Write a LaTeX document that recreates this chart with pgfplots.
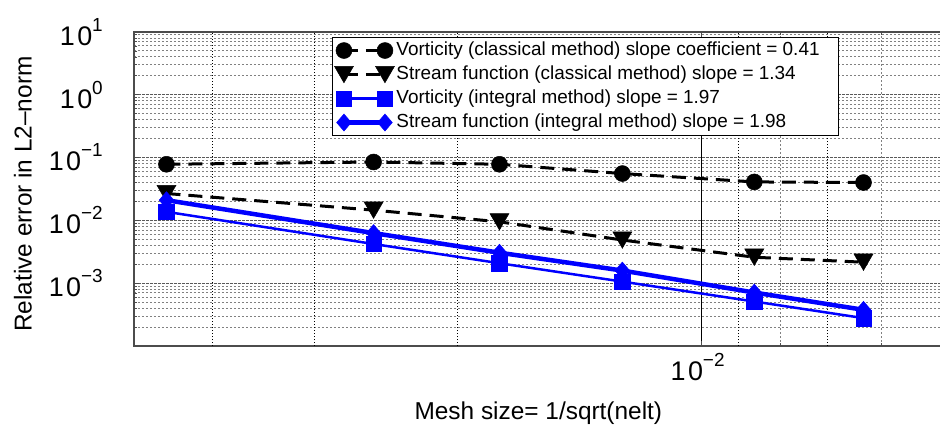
\documentclass[border=0pt]{standalone}
\usepackage{fontspec}
\setmainfont{Liberation Sans}
\usepackage{pgfplots}
\pgfplotsset{compat=1.18}
\definecolor{mblue}{RGB}{0,0,255}
\newcommand{\tl}[1]{1\kern2.5bp 0\raisebox{14bp}{\fontsize{19}{19}\selectfont #1}}

\begin{document}
\begin{tikzpicture}
\useasboundingbox (-134bp,-85bp) rectangle (806bp,346bp);
\begin{axis}[
  at={(0bp,0bp)}, anchor=south west,
  scale only axis, width=812bp, height=314bp,
  xmode=log, ymode=log,
  xmin=0.002, xmax=0.02, ymin=1e-4, ymax=10,
  xtick={0.01}, xticklabels={\tl{−2}},
  ytick={1e-4,1e-3,1e-2,1e-1,1,10},
  yticklabels={,\tl{−3},\tl{−2},\tl{−1},\tl{0},\tl{1}},
  minor xtick={0.0125,0.0166667},
  minor ytick={2e-4,3e-4,4e-4,5e-4,6e-4,7e-4,8e-4,9e-4,
               2e-3,3e-3,4e-3,5e-3,6e-3,7e-3,8e-3,9e-3,
               2e-2,3e-2,4e-2,5e-2,6e-2,7e-2,8e-2,9e-2,
               2e-1,3e-1,4e-1,5e-1,6e-1,7e-1,8e-1,9e-1,
               2,3,4,5,6,7,8,9},
  xmajorgrids, xminorgrids, ymajorgrids, yminorgrids,
  major y grid style={black!65, line width=1bp, dash pattern=on 3bp off 1bp},
  minor y grid style={black!50, line width=1bp, dash pattern=on 2bp off 2bp},
  major x grid style={black, line width=0.8bp},
  minor x grid style={black!50, line width=1bp, dash pattern=on 2bp off 2bp},
  extra x ticks={0.0025,0.00333333,0.005,0.0111111,0.0142857},
  extra x tick labels={},
  extra x tick style={grid=major, major tick length=0pt,
     major grid style={black, line width=1bp, dash pattern=on 1.5bp off 1.5bp},
     major x grid style={black, line width=1bp, dash pattern=on 1.5bp off 1.5bp}},
  tick align=inside,
  major tick length=5bp, minor tick length=3bp,
  tick style={black!70, line width=0.8bp},
  axis line style={black!70, line width=1.2bp},
  tick label style={font=\fontsize{27}{31}\selectfont},
  yticklabel style={anchor=east, inner sep=0pt, xshift=-31bp},
  xticklabel style={anchor=north, inner sep=0pt, yshift=-7bp, xshift=-4bp},
  label style={font=\fontsize{24.5}{29}\selectfont},
  xlabel={Mesh size= 1/sqrt(nelt)},
  ylabel={Relative error in L2–norm},
  xlabel style={at={(axis description cs:0.498,-0.2134)}, anchor=center},
  ylabel style={at={(axis description cs:-0.1367,0.484)}, anchor=center, rotate=0},
  legend style={at={(axis description cs:0.2438,0.984)}, anchor=north west,
     font=\fontsize{19}{22}\selectfont, draw=black, line width=1bp, fill=white,
     inner xsep=2bp, inner ysep=1bp, row sep=0pt,
     nodes={inner sep=2bp, text height=15bp, text depth=5bp}},
  legend cell align=left,
  legend image code/.code={\draw[mark repeat=1,mark phase=1,#1] plot coordinates {(0bp,0bp) (41bp,0bp)};},
]
\addplot[black, line width=3bp, dash pattern=on 14bp off 8bp, mark=*, mark size=8bp, mark options={solid, line width=0.5bp}]
  coordinates {(0.002193,0.0783) (0.003946,0.0851) (0.005638,0.0783) (0.00799,0.0557) (0.011613,0.0410) (0.015829,0.0401)};
\addlegendentry{Vorticity (classical method) slope coefficient = 0.41\hspace*{15bp}}
\addplot[black, line width=3bp, dash pattern=on 14bp off 8bp, mark=triangle*, mark size=11bp, mark options={solid, line width=0.5bp, yshift=2.75bp, rotate=180}]
  coordinates {(0.002193,0.0268) (0.003946,0.01457) (0.005638,0.00950) (0.00799,0.00487) (0.011613,0.00259) (0.015829,0.00216)};
\addlegendentry{Stream function (classical method) slope = 1.34}
\addplot[mblue, line width=2.5bp, mark=square*, mark size=7.75bp, mark options={solid, line width=0.5bp}]
  coordinates {(0.002193,0.0137) (0.003946,0.00421) (0.005638,0.00208) (0.00799,0.00106) (0.011613,0.000511) (0.015829,0.000278)};
\addlegendentry{Vorticity (integral method) slope = 1.97}
\addplot[mblue, line width=4.5bp, mark=diamond*, mark size=8.5bp, mark options={solid, line width=0.5bp, xscale=1.15}]
  coordinates {(0.002193,0.0210) (0.003946,0.00628) (0.005638,0.00306) (0.00799,0.00159) (0.011613,0.00071) (0.015829,0.000377)};
\addlegendentry{Stream function (integral method) slope = 1.98}
\end{axis}
\end{tikzpicture}
\end{document}
